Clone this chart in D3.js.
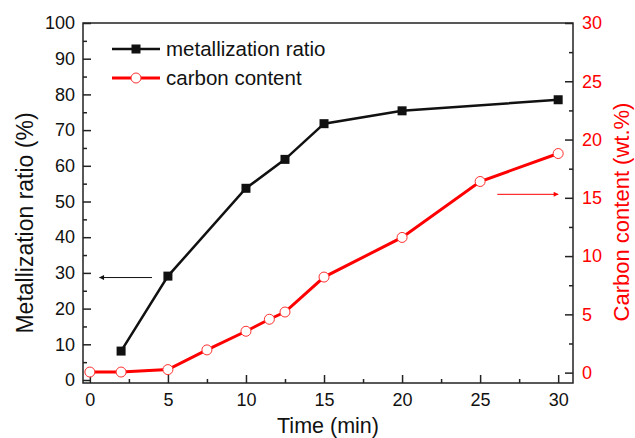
<!DOCTYPE html>
<html>
<head>
<meta charset="utf-8">
<script src="https://cdn.jsdelivr.net/npm/d3@7/dist/d3.min.js"></script>
<style>
  body { margin: 0; background: #fff; }
  svg { display: block; font-family: "Liberation Sans", Arial, sans-serif; }
</style>
</head>
<body>
<svg id="chart"></svg>
<script>
// data
const metalTime = [2, 5, 10, 12.5, 15, 20, 30];
const metalRatio = [8.1, 29.1, 53.7, 61.8, 71.8, 75.4, 78.5];
const carbonTime = [0, 2, 5, 7.5, 10, 11.5, 12.5, 15, 20, 25, 30];
const carbonContent = [0.05, 0.05, 0.26, 1.95, 3.55, 4.58, 5.2, 8.2, 11.6, 16.4, 18.8];
const xTicks = [0, 5, 10, 15, 20, 25, 30];
const leftTicks = [0, 10, 20, 30, 40, 50, 60, 70, 80, 90, 100];
const rightTicks = [0, 5, 10, 15, 20, 25, 30];

const width = 635;
const height = 438;
const margin = { top: 23, right: 62, bottom: 55, left: 83 };

const svg = d3.select("#chart").attr("width", width).attr("height", height);

const x = d3.scaleLinear().domain([-0.44, 30.95]).range([margin.left, width - margin.right]);
const yL = d3.scaleLinear().domain([-0.84, 100]).range([height - margin.bottom, margin.top]);
const yR = d3.scaleLinear().domain([-0.89, 30]).range([height - margin.bottom, margin.top]);

const x0 = margin.left, x1 = width - margin.right;
const y0 = height - margin.bottom, y1 = margin.top;

// frame
svg.append("rect")
  .attr("x", x0).attr("y", y1)
  .attr("width", x1 - x0).attr("height", y0 - y1)
  .attr("fill", "none").attr("stroke", "#222").attr("stroke-width", 1.5);

// minor tick positions
function minor(step, lo, hi) {
  return d3.range(lo, hi + 0.001, step);
}

// bottom axis (ticks inward)
svg.append("g").attr("transform", `translate(0,${y0})`)
  .call(d3.axisBottom(x).tickValues(xTicks).tickSize(-8).tickPadding(10).tickFormat(d3.format("d")));
svg.append("g").attr("transform", `translate(0,${y0})`)
  .call(d3.axisBottom(x).tickValues(minor(5, 2.5, 27.5)).tickSize(-4).tickFormat(""));

// left axis
svg.append("g").attr("transform", `translate(${x0},0)`)
  .call(d3.axisLeft(yL).tickValues(leftTicks).tickSize(-8).tickPadding(8));
svg.append("g").attr("transform", `translate(${x0},0)`)
  .call(d3.axisLeft(yL).tickValues(minor(10, 5, 95)).tickSize(-4).tickFormat(""));

// right axis
const right = svg.append("g").attr("transform", `translate(${x1},0)`)
  .call(d3.axisRight(yR).tickValues(rightTicks).tickSize(-8).tickPadding(9));
svg.append("g").attr("transform", `translate(${x1},0)`)
  .call(d3.axisRight(yR).tickValues(minor(5, 2.5, 27.5)).tickSize(-4).tickFormat(""));

svg.selectAll(".domain").remove();
svg.selectAll(".tick line").attr("stroke", "#222").attr("stroke-width", 1.5);
svg.selectAll(".tick text").attr("font-size", 18).attr("fill", "#111")
  .style("font-family", "'Liberation Sans', Arial, sans-serif");
right.selectAll(".tick text").attr("fill", "#ff0000");

// axis titles
svg.append("text")
  .attr("x", (x0 + x1) / 2).attr("y", 433)
  .attr("text-anchor", "middle").attr("font-size", 21.5).attr("fill", "#111")
  .text("Time (min)");
svg.append("text")
  .attr("transform", `translate(33,223) rotate(-90)`)
  .attr("text-anchor", "middle").attr("font-size", 23).attr("fill", "#111")
  .text("Metallization ratio (%)");
svg.append("text")
  .attr("transform", `translate(629,212) rotate(-90)`)
  .attr("text-anchor", "middle").attr("font-size", 22).attr("fill", "#ff0000")
  .text("Carbon content (wt.%)");

// arrow markers
const defs = svg.append("defs");
[["arrowK", "#111"], ["arrowR", "#ff0000"]].forEach(([id, c]) => {
  defs.append("marker").attr("id", id)
    .attr("viewBox", "0 0 10 10").attr("refX", 9).attr("refY", 5)
    .attr("markerWidth", 9).attr("markerHeight", 5).attr("orient", "auto")
    .attr("markerUnits", "userSpaceOnUse")
    .append("path").attr("d", "M0,0 L10,5 L0,10 z").attr("fill", c);
});

svg.append("line")
  .attr("x1", x(3.98)).attr("x2", x(0.62))
  .attr("y1", yL(28.7)).attr("y2", yL(28.7))
  .attr("stroke", "#111").attr("stroke-width", 1)
  .attr("marker-end", "url(#arrowK)");
svg.append("line")
  .attr("x1", x(26.1)).attr("x2", x(30.0))
  .attr("y1", yR(15.3)).attr("y2", yR(15.3))
  .attr("stroke", "#ff0000").attr("stroke-width", 1)
  .attr("marker-end", "url(#arrowR)");

// series
const metal = metalTime.map((t, i) => [t, metalRatio[i]]);
const carbon = carbonTime.map((t, i) => [t, carbonContent[i]]);

svg.append("path").datum(carbon)
  .attr("d", d3.line().x(d => x(d[0])).y(d => yR(d[1])))
  .attr("fill", "none").attr("stroke", "#ff0000").attr("stroke-width", 3);
svg.selectAll(".cpt").data(carbon).enter().append("circle")
  .attr("cx", d => x(d[0])).attr("cy", d => yR(d[1])).attr("r", 5)
  .attr("fill", "#fff").attr("stroke", "#ff3030").attr("stroke-width", 1);

svg.append("path").datum(metal)
  .attr("d", d3.line().x(d => x(d[0])).y(d => yL(d[1])))
  .attr("fill", "none").attr("stroke", "#111").attr("stroke-width", 2.5);
svg.selectAll(".mpt").data(metal).enter().append("rect")
  .attr("x", d => x(d[0]) - 4.5).attr("y", d => yL(d[1]) - 4.5)
  .attr("width", 9).attr("height", 9).attr("fill", "#111");

// legend
const legend = [
  { label: "metallization ratio", color: "#111", shape: "square", y: 49 },
  { label: "carbon content", color: "#ff0000", shape: "circle", y: 78 }
];
legend.forEach(l => {
  const g = svg.append("g");
  g.append("line").attr("x1", 112).attr("x2", 160).attr("y1", l.y).attr("y2", l.y)
    .attr("stroke", l.color).attr("stroke-width", l.shape === "square" ? 2.5 : 3);
  if (l.shape === "square") {
    g.append("rect").attr("x", 136 - 4.5).attr("y", l.y - 4.5).attr("width", 9).attr("height", 9).attr("fill", l.color);
  } else {
    g.append("circle").attr("cx", 136).attr("cy", l.y).attr("r", 5)
      .attr("fill", "#fff").attr("stroke", "#ff3030").attr("stroke-width", 1);
  }
  g.append("text").attr("x", 166).attr("y", l.y + 7)
    .attr("font-size", 20.5).attr("fill", "#111").text(l.label);
});
</script>
</body>
</html>
